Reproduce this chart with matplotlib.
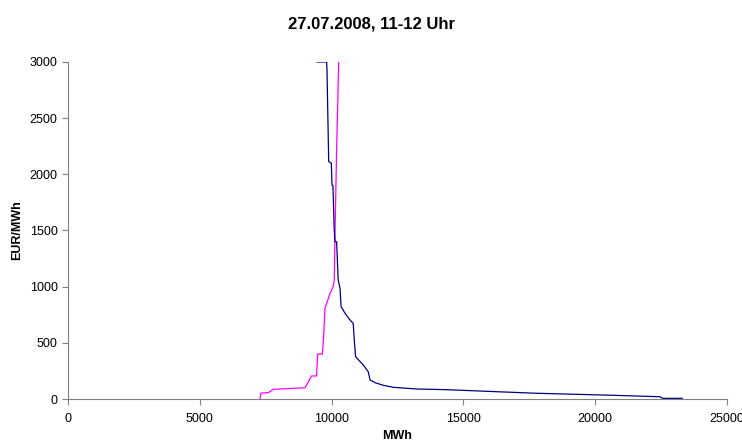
import matplotlib.pyplot as plt

plt.rcParams['font.family'] = ['Liberation Sans', 'DejaVu Sans']

# Angebotskurve (magenta) - MWh / EUR/MWh
sell_mwh = [7284, 7300, 7320, 7600, 7790, 8990, 9240, 9430, 9470, 9650, 9690, 9750,
            9810, 9940, 10060, 10100, 10130, 10190, 10270]
sell_eur = [0, 30, 53, 56, 86, 100, 205, 205, 400, 400, 525, 807,
            850, 940, 1000, 1060, 1475, 2217, 3000]

# Nachfragekurve (blau)
buy_mwh = [9460, 9810, 9825, 9890, 9990, 10015, 10050, 10100, 10130, 10190, 10250,
           10320, 10360, 10510, 10700, 10820, 10860, 10910, 11200, 11390, 11460,
           11650, 11960, 12340, 13230, 14360, 16260, 17780, 20690, 22460, 22560, 23300]
buy_eur = [3000, 3000, 2930, 2113, 2100, 1905, 1900, 1505, 1400, 1400, 1060,
           985, 822, 763, 703, 673, 525, 377, 303, 243, 169,
           145, 122, 104, 89, 83, 65, 51, 33, 20, 6, 6]

fig = plt.figure(figsize=(7.42, 4.44), dpi=100)
ax = fig.add_axes([68/742, 1-399/444, 659/742, 337/444])

ax.plot(sell_mwh, sell_eur, color='#FF00FF', lw=0.9)
ax.plot(buy_mwh, buy_eur, color='#000080', lw=0.9)

ax.set_xlim(0, 25000)
ax.set_ylim(0, 3000)
ax.set_xticks(range(0, 25001, 5000))
ax.set_yticks(range(0, 3001, 500))
ax.tick_params(labelsize=9, length=4, width=0.8, color='#808080')
ax.tick_params(axis='x', pad=6)
ax.spines['top'].set_visible(False)
ax.spines['right'].set_visible(False)
ax.spines['left'].set_color('#808080')
ax.spines['bottom'].set_color('#808080')

ax.set_xlabel('MWh', fontsize=9, fontweight='bold')
ax.xaxis.set_label_coords(0.5, -0.093)
ax.set_ylabel('EUR/MWh', fontsize=9, fontweight='bold')
ax.yaxis.set_label_coords(-0.068, 0.5)
fig.suptitle('27.07.2008, 11-12 Uhr', fontsize=12, fontweight='bold', y=0.962)

fig.savefig('out.png', dpi=100)
